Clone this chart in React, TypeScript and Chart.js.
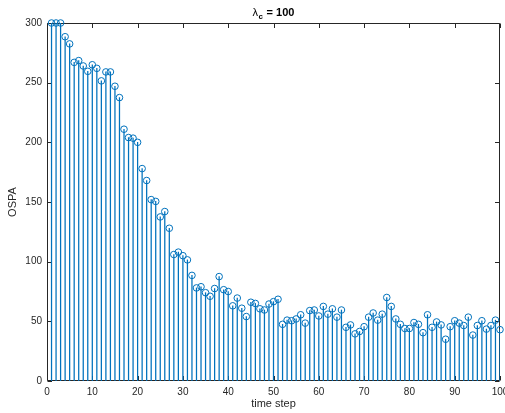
import React, { useEffect, useRef } from "react";
import { Chart, registerables } from "chart.js";

Chart.register(...registerables);

const timeSteps = [
  1, 2, 3, 4, 5, 6, 7, 8, 9, 10,
  11, 12, 13, 14, 15, 16, 17, 18, 19, 20,
  21, 22, 23, 24, 25, 26, 27, 28, 29, 30,
  31, 32, 33, 34, 35, 36, 37, 38, 39, 40,
  41, 42, 43, 44, 45, 46, 47, 48, 49, 50,
  51, 52, 53, 54, 55, 56, 57, 58, 59, 60,
  61, 62, 63, 64, 65, 66, 67, 68, 69, 70,
  71, 72, 73, 74, 75, 76, 77, 78, 79, 80,
  81, 82, 83, 84, 85, 86, 87, 88, 89, 90,
  91, 92, 93, 94, 95, 96, 97, 98, 99, 100,
];

const ospa = [
  300, 300, 300, 288.5, 282.5, 267, 268.5, 264, 259.5, 265,
  262, 251.5, 259, 259, 247, 237.5, 211, 204, 203.5, 200,
  178, 168, 152, 150.5, 137.5, 142, 128, 106, 108, 105,
  101.5, 88.5, 78, 79, 74, 71, 77.5, 87.5, 76.5, 75,
  63, 69.5, 61, 54, 66, 65, 60.5, 59.5, 64.5, 66.5,
  68.5, 47.5, 51, 50.5, 52, 55.5, 48.5, 59, 59.5, 54.5,
  62.5, 56, 60.5, 53.5, 59.5, 45, 47, 39.5, 41.5, 45.5,
  53.5, 57, 51, 56, 70, 62.5, 52, 47.5, 44, 44,
  49, 47.5, 40.5, 55.5, 45, 49.5, 47, 35, 45.5, 50.5,
  48.5, 46.5, 53.5, 38.5, 46.5, 50.5, 43.5, 46.5, 51, 43,
];

const xTicks = [0, 10, 20, 30, 40, 50, 60, 70, 80, 90, 100];
const yTicks = [0, 50, 100, 150, 200, 250, 300];

const FONT = "'Liberation Sans', Arial, Helvetica, sans-serif";
const STEM = "#0072BD";
const AXIS = "#262626";

const framePlugin = {
  id: "frame",
  beforeDatasetsDraw(chart: any) {
    const { ctx, chartArea, scales } = chart;
    const { left, right, top, bottom } = chartArea;
    const x = scales.x;
    const y = scales.y;
    ctx.save();
    ctx.strokeStyle = AXIS;
    ctx.lineWidth = 1;
    const l = Math.round(left) + 0.5;
    const r = Math.round(right) - 0.5;
    const t = Math.round(top) + 0.5;
    const b = Math.round(bottom) - 0.5;
    ctx.beginPath();
    ctx.moveTo(l, t);
    ctx.lineTo(r, t);
    ctx.lineTo(r, b);
    ctx.lineTo(l, b);
    ctx.closePath();
    ctx.stroke();
    const L = 4.5;
    ctx.beginPath();
    for (const v of xTicks) {
      const px = Math.round(x.getPixelForValue(v)) + 0.5;
      ctx.moveTo(px, b);
      ctx.lineTo(px, b - L);
      ctx.moveTo(px, t);
      ctx.lineTo(px, t + L);
    }
    for (const v of yTicks) {
      const py = Math.round(y.getPixelForValue(v)) + 0.5;
      ctx.moveTo(l, py);
      ctx.lineTo(l + L, py);
      ctx.moveTo(r, py);
      ctx.lineTo(r - L, py);
    }
    ctx.stroke();
    ctx.restore();
  },
  afterDraw(chart: any) {
    const { ctx, chartArea } = chart;
    const cx = (chartArea.left + chartArea.right) / 2;
    const baseY = 16;
    ctx.save();
    ctx.fillStyle = "#000";
    ctx.textBaseline = "alphabetic";
    ctx.textAlign = "left";
    const fLam = `11px ${FONT}`;
    const fSub = `bold 8px ${FONT}`;
    const fRest = `bold 11px ${FONT}`;
    ctx.font = fLam;
    const wL = ctx.measureText("λ").width;
    ctx.font = fSub;
    const wS = ctx.measureText("c").width;
    ctx.font = fRest;
    const rest = " = 100";
    const wR = ctx.measureText(rest).width;
    let xx = cx - (wL + wS + 1 + wR) / 2;
    ctx.font = fLam;
    ctx.fillText("λ", xx, baseY);
    xx += wL + 0.5;
    ctx.font = fSub;
    ctx.fillText("c", xx, baseY + 3);
    xx += wS + 0.5;
    ctx.font = fRest;
    ctx.fillText(rest, xx, baseY);
    ctx.restore();
  },
};

export default function App() {
  const ref = useRef<HTMLCanvasElement | null>(null);

  useEffect(() => {
    if (!ref.current) return;
    const points = timeSteps.map((t, i) => ({ x: t, y: ospa[i] }));
    const chart = new Chart(ref.current, {
      type: "bar",
      data: {
        datasets: [
          {
            type: "line",
            data: points,
            showLine: false,
            pointStyle: "circle",
            pointRadius: 3.3,
            pointBorderWidth: 1,
            pointBorderColor: STEM,
            pointBackgroundColor: "rgba(0,0,0,0)",
            clip: 10,
          } as any,
          {
            type: "bar",
            data: points,
            backgroundColor: STEM,
            borderWidth: 0,
            barThickness: 0.6,
          } as any,
        ],
      },
      options: {
        responsive: false,
        animation: false,
        events: [],
        layout: { padding: { left: 0, top: 23, right: 5, bottom: 0 } },
        plugins: {
          legend: { display: false },
          title: { display: false },
          tooltip: { enabled: false },
        },
        scales: {
          x: {
            type: "linear",
            min: 0,
            max: 100,
            offset: false,
            grid: { display: false, drawTicks: false },
            border: { display: false },
            afterBuildTicks: (s: any) => {
              s.ticks = xTicks.map((v) => ({ value: v }));
            },
            afterFit: (s: any) => {
              s.height = 32;
              s.paddingLeft = 0;
              s.paddingRight = 0;
            },
            ticks: {
              font: { family: FONT, size: 10 },
              color: AXIS,
              padding: 5,
              maxRotation: 0,
              autoSkip: false,
            },
            title: {
              display: true,
              text: "time step",
              font: { family: FONT, size: 11 },
              color: AXIS,
              padding: { top: 0, bottom: 2 },
            },
          },
          y: {
            type: "linear",
            min: 0,
            max: 300,
            grid: { display: false, drawTicks: false },
            border: { display: false },
            afterBuildTicks: (s: any) => {
              s.ticks = yTicks.map((v) => ({ value: v }));
            },
            afterFit: (s: any) => {
              s.width = 47;
              s.paddingTop = 0;
              s.paddingBottom = 0;
            },
            ticks: {
              font: { family: FONT, size: 10 },
              color: AXIS,
              padding: 5,
              autoSkip: false,
            },
            title: {
              display: true,
              text: "OSPA",
              font: { family: FONT, size: 11 },
              color: AXIS,
              padding: { top: 6, bottom: 0 },
            },
          },
        },
      },
      plugins: [framePlugin],
    });
    return () => chart.destroy();
  }, []);

  return (
    <div
      style={{
        position: "fixed",
        left: 0,
        top: 0,
        width: 505,
        height: 413,
        background: "#fff",
      }}
    >
      <canvas ref={ref} width={505} height={413} style={{ display: "block" }} />
    </div>
  );
}
